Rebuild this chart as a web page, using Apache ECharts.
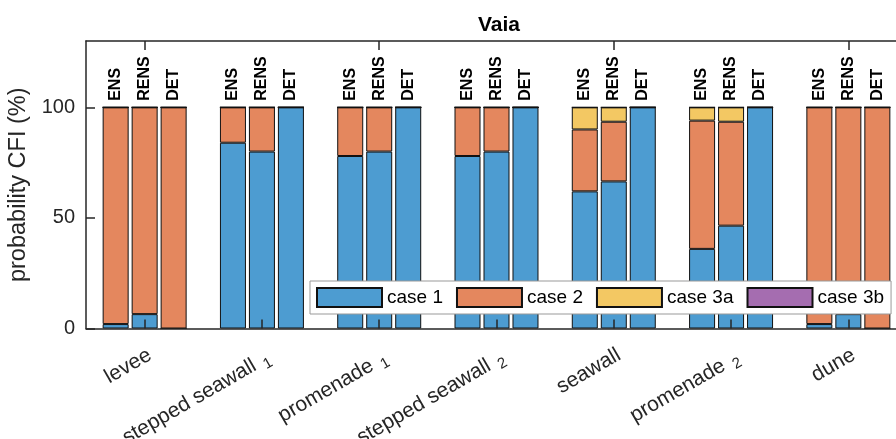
<!DOCTYPE html>
<html>
<head>
<meta charset="utf-8">
<script src="https://cdn.jsdelivr.net/npm/echarts@6/dist/echarts.min.js"></script>
<style>
html,body{margin:0;padding:0;background:#fff;}
#chart{width:896px;height:439px;}
</style>
</head>
<body>
<div id="chart"></div>
<script>
// ---- data ----
const categories = ['levee', 'stepped seawall_1', 'promenade_1', 'stepped seawall_2', 'seawall', 'promenade_2', 'dune'];
const barTypes = ['ENS', 'RENS', 'DET'];
const caseNames = ['case 1', 'case 2', 'case 3a', 'case 3b'];
const yTicks = [0, 50, 100];

// ENS
const ensCase1  = [2, 84, 78, 78, 62, 36, 2];
const ensCase2  = [98, 16, 22, 22, 28, 58, 98];
const ensCase3a = [0, 0, 0, 0, 10, 6, 0];
const ensCase3b = [0, 0, 0, 0, 0, 0, 0];
// RENS
const rensCase1  = [6.5, 80, 80, 80, 66.5, 46.5, 6.5];
const rensCase2  = [93.5, 20, 20, 20, 27, 47, 93.5];
const rensCase3a = [0, 0, 0, 0, 6.5, 6.5, 0];
const rensCase3b = [0, 0, 0, 0, 0, 0, 0];
// DET
const detCase1  = [0, 100, 100, 100, 100, 100, 0];
const detCase2  = [100, 0, 0, 0, 0, 0, 100];
const detCase3a = [0, 0, 0, 0, 0, 0, 0];
const detCase3b = [0, 0, 0, 0, 0, 0, 0];

const caseColors = ['#4D9CD1', '#E4875E', '#F3C863', '#A56DB0'];

// ---- build ----
const stacks = {
  ENS: [ensCase1, ensCase2, ensCase3a, ensCase3b],
  RENS: [rensCase1, rensCase2, rensCase3a, rensCase3b],
  DET: [detCase1, detCase2, detCase3a, detCase3b]
};
const FONT = "'Liberation Sans', Arial, Helvetica, sans-serif";
const AX = '#262626';

const series = [];
barTypes.forEach(bt => {
  stacks[bt].forEach((vals, ci) => {
    const isTop = ci === caseNames.length - 1;
    series.push({
      type: 'bar',
      name: caseNames[ci],
      stack: bt,
      data: vals,
      barWidth: 26,
      barGap: '11.5%',
      itemStyle: { color: caseColors[ci], borderColor: '#111', borderWidth: 1 },
      emphasis: { disabled: true },
      label: isTop ? {
        show: true,
        position: 'top',
        distance: 6,
        rotate: 90,
        align: 'left',
        verticalAlign: 'middle',
        formatter: () => bt,
        fontFamily: FONT,
        fontSize: 16,
        fontWeight: 'bold',
        color: '#000'
      } : { show: false }
    });
  });
});

const chart = echarts.init(document.getElementById('chart'), null, { renderer: 'canvas' });
chart.setOption({
  animation: false,
  backgroundColor: '#fff',
  textStyle: { fontFamily: FONT },
  title: {
    text: 'Vaia',
    left: 494,
    top: 10,
    textAlign: 'center',
    textStyle: { fontFamily: FONT, fontSize: 21, fontWeight: 'bold', color: '#000' }
  },
  grid: {
    left: 86, top: 41, width: 821, height: 287.5,
    containLabel: false,
    outerBoundsMode: 'none'
  },
  legend: {
    data: caseNames,
    left: 310, top: 281,
    orient: 'horizontal',
    itemWidth: 65, itemHeight: 19, itemGap: 13,
    padding: [6, 7, 6, 6],
    icon: 'rect',
    borderColor: '#999', borderWidth: 1,
    backgroundColor: '#fff',
    borderRadius: 0,
    z: 10,
    textStyle: { fontFamily: FONT, fontSize: 19, color: '#000' },
    selectedMode: false
  },
  xAxis: [{
    type: 'category',
    data: categories,
    position: 'bottom',
    z: 5,
    axisLine: { show: true, lineStyle: { color: AX, width: 1.5 } },
    axisTick: { show: true, inside: true, length: 9, alignWithLabel: true, lineStyle: { color: AX, width: 1.5 } },
    axisLabel: {
      rotate: 30,
      interval: 0,
      margin: 16,
      align: 'right',
      verticalAlign: 'top',
      color: AX,
      fontFamily: FONT,
      fontSize: 21,
      formatter: v => {
        const parts = v.split('_');
        return parts[1] ? '{n|' + parts[0] + ' }{s|' + parts[1] + '}' : '{n|' + parts[0] + '}';
      },
      rich: {
        n: { fontFamily: FONT, fontSize: 21, color: AX },
        s: { fontFamily: FONT, fontSize: 15, color: AX, padding: [12, 0, 0, 2] }
      }
    },
    splitLine: { show: false }
  }, {
    type: 'category',
    data: categories,
    position: 'top',
    z: 5,
    axisLine: { show: true, lineStyle: { color: AX, width: 1.5 } },
    axisTick: { show: true, inside: true, length: 9, alignWithLabel: true, lineStyle: { color: AX, width: 1.5 } },
    axisLabel: { show: false },
    splitLine: { show: false }
  }],
  yAxis: {
    type: 'value',
    min: 0, max: 130, interval: 50,
    name: 'probability CFI (%)',
    nameLocation: 'middle',
    nameGap: 51,
    nameTextStyle: { fontFamily: FONT, fontSize: 23.5, color: AX },
    axisLine: { show: true, lineStyle: { color: AX, width: 1.5 } },
    axisTick: { show: true, inside: true, length: 9, customValues: yTicks, lineStyle: { color: AX, width: 1.5 } },
    axisLabel: { customValues: yTicks, margin: 11, color: AX, fontFamily: FONT, fontSize: 20 },
    splitLine: { show: false }
  },
  series: series
});
</script>
</body>
</html>
